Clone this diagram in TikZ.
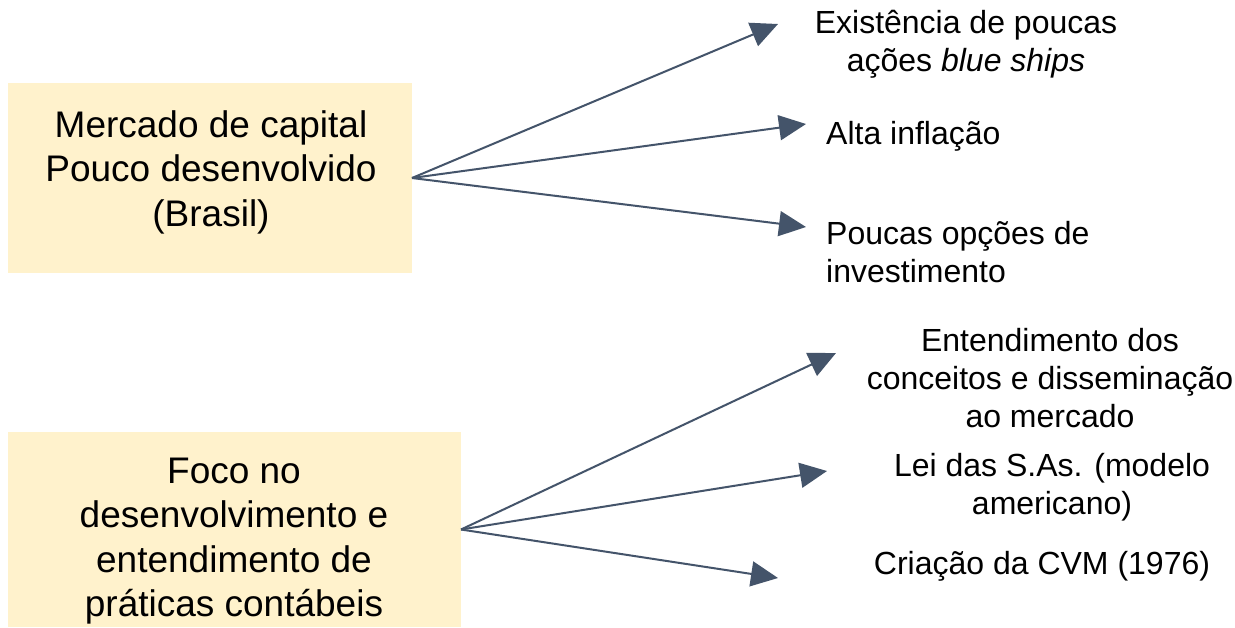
\documentclass[tikz,border=0pt]{standalone}
\usepackage{fontspec}
\setmainfont{Liberation Sans}
\usetikzlibrary{arrows.meta}
\definecolor{boxfill}{HTML}{FFF2CC}
\definecolor{linec}{HTML}{44546A}
\begin{document}
\begin{tikzpicture}[x=1pt,y=-1pt,
  boxshape/.style={fill=boxfill,draw=none,inner sep=0,outer sep=0},
  bigtext/.style={font=\fontsize{37}{44.5}\selectfont,align=center,inner sep=0},
  smalltext/.style={font=\fontsize{32}{38}\selectfont,inner sep=0},
  conn/.style={draw=linec,line width=2pt,-{Triangle[length=27pt,width=25pt]}}]
\useasboundingbox (0,0) rectangle (1235,627);
\fill[white] (0,0) rectangle (1235,627);
% boxes
\node[boxshape,minimum width=404pt,minimum height=190pt,anchor=north west] (b1) at (8,83) {};
\node[boxshape,minimum width=453pt,minimum height=195pt,anchor=north west] (b2) at (8,432) {};
\node[bigtext] (t1) at (211,172) {Mercado de capital\\Pouco desenvolvido\\(Brasil)};
\node[bigtext] (t2) at (234,541) {Foco no\\desenvolvimento e\\entendimento de\\práticas contábeis};
% right labels
\node[smalltext,align=center] (r1) at (966,44) {Existência de poucas\\ações \textit{blue ships}};
\node[smalltext,anchor=west] (r2) at (826,136) {Alta inflação};
\node[smalltext,align=left,anchor=west] (r3) at (826,252) {Poucas opções de\\investimento};
\node[smalltext,align=center] (r4) at (1050,378) {Entendimento dos\\conceitos e disseminação\\ao mercado};
\node[smalltext,align=center] (r5) at (1052,487) {Lei das S.As. (modelo\\americano)};
\node[smalltext] (r6) at (1042,566) {Criação da CVM (1976)};
% arrow tips
\coordinate (p1) at (778,24);
\coordinate (p2) at (806,124);
\coordinate (p3) at (806,227);
\coordinate (q1) at (836,353);
\coordinate (q2) at (827,471);
\coordinate (q3) at (778,578);
\draw[conn] (b1.east) -- (p1);
\draw[conn] (b1.east) -- (p2);
\draw[conn] (b1.east) -- (p3);
\draw[conn] (b2.east) -- (q1);
\draw[conn] (b2.east) -- (q2);
\draw[conn] (b2.east) -- (q3);
\end{tikzpicture}
\end{document}
